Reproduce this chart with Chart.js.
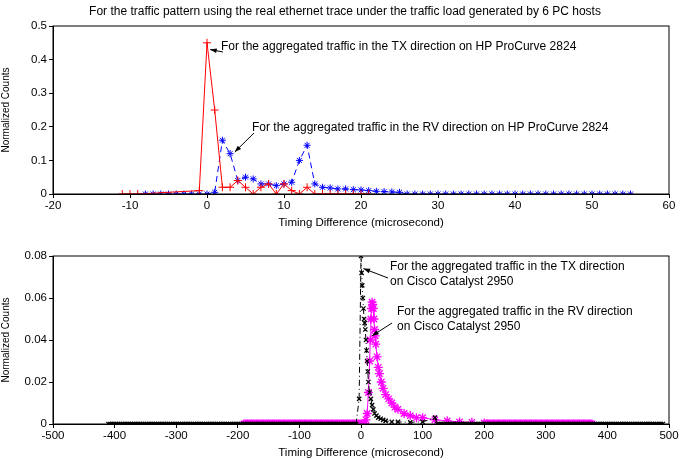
<!DOCTYPE html>
<html><head><meta charset="utf-8">
<script src="https://cdn.jsdelivr.net/npm/chart.js@4"></script>
<style>body{margin:0;background:#fff}div{position:absolute;left:0;width:690px;height:230px}</style>
</head><body>
<div style="top:0"><canvas id="top"></canvas></div>
<div style="top:230px"><canvas id="bottom"></canvas></div>
<script>
const titleText = 'For the traffic pattern using the real ethernet trace under the traffic load generated by 6 PC hosts';
const xLabel = 'Timing Difference (microsecond)';
const yLabel = 'Normalized Counts';

// top panel, HP ProCurve 2824 (1 us bins)
const hpTxX = [-11,-10,-9,-1,0,1,2,3,4,5,6,7,8,9,10,11,12,13,14,15,16,17,18,19,20,21];
const hpTxY = [0,0,0,0.01,0.45,0.25,0.02,0.02,0.04,0.02,0,0.02,0.03,0,0.03,0.01,0,0.02,0,0,0,0,0,0,0,0];
const hpRvX = [-8,-7,-6,-5,-4,-3,-2,-1,0,1,2,3,4,5,6,7,8,9,10,11,12,13,14,15,16,17,18,19,20,21,22,23,24,25];
const hpRvY = [0,0,0,0,0,0,0,0,0,0.005,0.16,0.12,0.04,0.05,0.045,0.03,0.03,0.025,0.03,0.035,0.1,0.145,0.03,0.02,0.018,0.015,0.015,0.013,0.012,0.01,0.008,0.007,0.006,0.005];
const hpRvTailStart = 26, hpRvTailEnd = 55;

// bottom panel, Cisco Catalyst 2950
const ciTxX = [-3,0,1,2,3,4,5,6,7,8,9,10,11,12,14,16,18,20,22,25,28,32,36,40,50,60,80,100,120];
const ciTxY = [0.012,0.08,0.072,0.066,0.06,0.055,0.05,0.048,0.045,0.04,0.035,0.03,0.025,0.02,0.015,0.012,0.009,0.007,0.005,0.004,0.003,0.0025,0.002,0.0015,0.001,0.001,0.0008,0.001,0.003];
const ciRvX = [8,10,12,14,15,16,17,18,19,20,21,22,23,24,26,28,30,33,36,40,45,50,55,60,70,80,90,100,120,140,160,180,200];
const ciRvY = [0.002,0.005,0.015,0.03,0.04,0.05,0.055,0.058,0.057,0.055,0.05,0.045,0.042,0.038,0.032,0.027,0.024,0.02,0.017,0.014,0.012,0.01,0.008,0.007,0.005,0.004,0.003,0.003,0.002,0.0015,0.001,0.0008,0.0005];
const ciTxFlat = [-410, 490], ciRvFlat = [-190, 375];

function pts(xs, ys) { return xs.map((x, i) => ({x, y: ys[i]})); }
function flat(a, b, step) { const r = []; for (let x = a; x <= b; x += step) r.push({x, y: 0}); return r; }

const hpRv = pts(hpRvX, hpRvY).concat(flat(hpRvTailStart, hpRvTailEnd, 1));
const ciTx = flat(ciTxFlat[0], -6, 3).concat(pts(ciTxX, ciTxY), flat(124, ciTxFlat[1], 3));
const ciRv = flat(ciRvFlat[0], 6, 2).concat(pts(ciRvX, ciRvY), flat(203, ciRvFlat[1], 2));

Chart.defaults.font = {family: 'Liberation Sans, Arial', size: 11.5};
Chart.defaults.color = '#000';

const notes = {
  id: 'notes',
  afterDraw(chart, args, opts) {
    const c = chart.ctx, xs = chart.scales.x, ys = chart.scales.y;
    c.save();
    c.font = '12px Liberation Sans, Arial';
    c.fillStyle = '#000'; c.strokeStyle = '#000'; c.lineWidth = 1;
    if (opts.title) { c.textAlign = 'center'; c.fillText(opts.title, 345, 15); }
    c.textAlign = 'left';
    (opts.items || []).forEach(n => {
      n.lines.forEach((t, i) => c.fillText(t, n.tx, n.ty + i * 15));
      const x1 = n.ax, y1 = n.ay, x2 = xs.getPixelForValue(n.px), y2 = ys.getPixelForValue(n.py);
      c.beginPath(); c.moveTo(x1, y1); c.lineTo(x2, y2); c.stroke();
      const a = Math.atan2(y2 - y1, x2 - x1);
      c.beginPath(); c.moveTo(x2, y2);
      c.lineTo(x2 - 7 * Math.cos(a - 0.35), y2 - 7 * Math.sin(a - 0.35));
      c.lineTo(x2 - 7 * Math.cos(a + 0.35), y2 - 7 * Math.sin(a + 0.35));
      c.closePath(); c.fill();
    });
    const ca = chart.chartArea;
    c.strokeRect(ca.left, ca.top, ca.right - ca.left, ca.bottom - ca.top);
    c.restore();
  }
};

function makeChart(id, datasets, xr, xstep, yr, ystep, note) {
  return new Chart(document.getElementById(id), {
    type: 'line',
    data: {datasets},
    options: {
      responsive: true, maintainAspectRatio: false, animation: false,
      layout: {padding: {top: 26, right: 21, left: 0, bottom: 0}},
      plugins: {legend: {display: false}, tooltip: {enabled: false}, notes: note},
      scales: {
        x: {type: 'linear', min: xr[0], max: xr[1],
            ticks: {stepSize: xstep, padding: 1, maxRotation: 0},
            grid: {drawOnChartArea: false, tickLength: 4, color: '#000'},
            border: {color: '#000'},
            title: {display: true, text: xLabel, padding: 0},
            afterFit: s => { s.height = 36; }},
        y: {min: yr[0], max: yr[1],
            ticks: {stepSize: ystep, padding: 2},
            grid: {drawOnChartArea: false, tickLength: 4, color: '#000'},
            border: {color: '#000'},
            title: {display: true, text: yLabel, padding: 0, font: {size: 10}},
            afterFit: s => { s.width = 53; }}
      }
    },
    plugins: [notes]
  });
}

makeChart('top', [
  {data: pts(hpTxX, hpTxY), borderColor: '#ff0000', borderWidth: 1, pointStyle: 'cross', pointRadius: 4, pointBorderColor: '#ff0000', tension: 0},
  {data: hpRv, borderColor: '#0000ff', borderWidth: 1, borderDash: [6, 4], pointStyle: 'star', pointRadius: 3.5, pointBorderColor: '#0000ff', tension: 0}
], [-20, 60], 10, [0, 0.5], 0.1, {
  title: titleText,
  items: [
    {lines: ['For the aggregated traffic in the TX direction on HP ProCurve 2824'], tx: 221, ty: 50, ax: 223, ay: 52, px: 0.4, py: 0.43},
    {lines: ['For the aggregated traffic in the RV direction on HP ProCurve 2824'], tx: 252, ty: 131, ax: 254, ay: 133, px: 3.6, py: 0.125}
  ]
});

makeChart('bottom', [
  {data: ciTx, borderColor: '#000', borderWidth: 1, borderDash: [6, 3, 1, 3], pointStyle: 'crossRot', pointRadius: 3, pointBorderWidth: 1.3, pointBorderColor: '#000', tension: 0},
  {data: ciRv, borderColor: '#ff00ff', borderWidth: 1, pointStyle: 'star', pointRadius: 4.5, pointBorderWidth: 1.3, pointBorderColor: '#ff00ff', tension: 0}
], [-500, 500], 100, [0, 0.08], 0.02, {
  items: [
    {lines: ['For the aggregated traffic in the TX direction', 'on Cisco Catalyst 2950'], tx: 390, ty: 40, ax: 388, ay: 48, px: 4, py: 0.074},
    {lines: ['For the aggregated traffic in the RV direction', 'on Cisco Catalyst 2950'], tx: 397, ty: 85, ax: 392, ay: 93, px: 18, py: 0.042}
  ]
});
</script>
</body></html>
